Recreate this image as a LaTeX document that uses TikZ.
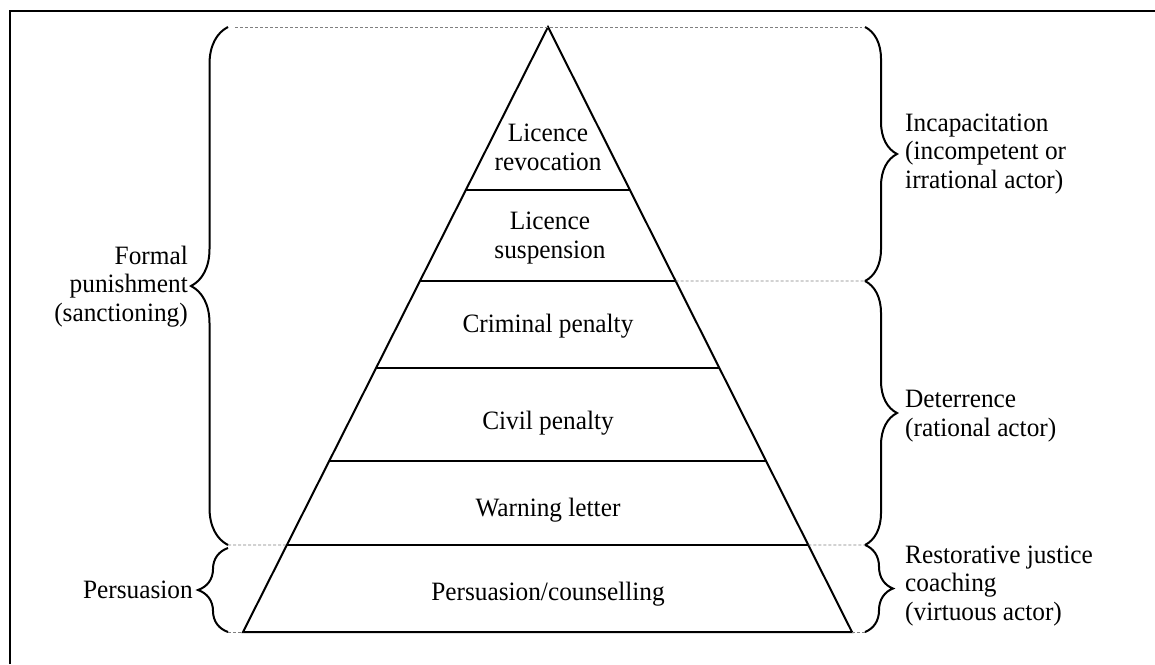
\documentclass[tikz,border=0pt]{standalone}
\usepackage{fontspec}
\setmainfont{Liberation Serif}[FakeStretch=0.955]
\usetikzlibrary{decorations.pathreplacing,calc}
\begin{document}
\begin{tikzpicture}[x=1pt,y=1pt,
  lbl/.style={font=\fontsize{26.5}{28.5}\selectfont, inner sep=0pt},
  pyr/.style={line width=2pt, line join=miter},
  guide/.style={gray, line width=0.8pt, dash pattern=on 3pt off 2pt},
  brc/.style={decorate, decoration={brace, amplitude=#1}, line width=2pt},
  frame/.style={line width=2.5pt}]
\useasboundingbox (0,0) rectangle (1155,-664);
% frame (top and left edges visible)
\coordinate (f1) at (10,-664);
\coordinate (f2) at (10,-11);
\coordinate (f3) at (1155,-11);
\draw[frame] (f1) -- (f2) -- (f3);
% pyramid
\coordinate (apex) at (548,-27);
\coordinate (bl) at (243,-632);
\coordinate (br) at (852,-632);
\draw[pyr] (bl) -- (apex) -- (br) -- cycle;
\foreach \t/\n in {0.2694/1,0.4198/2,0.5636/3,0.7174/4,0.8562/5}{
  \coordinate (l\n) at ($(apex)!\t!(bl)$);
  \coordinate (r\n) at ($(apex)!\t!(br)$);
  \draw[pyr] (l\n) -- (r\n);
}
% brace end points
\coordinate (Lt) at (228,-27);
\coordinate (Lm) at (228,-545);
\coordinate (Lm2) at (228,-548);
\coordinate (Lb) at (228,-632);
\coordinate (Rt) at (865,-27);
\coordinate (R1) at (865,-281);
\coordinate (Rm) at (865,-545);
\coordinate (Rb) at (865,-632);
% guide lines
\draw[guide, shorten <=7pt, shorten >=3pt] (Lt) -- (Rt);
\draw[guide] (r2) -- (R1);
\draw[guide] (Lm) -- (l5);
\draw[guide] (r5) -- (Rm);
\draw[guide] (Lb) -- (bl);
\draw[guide] (br) -- (Rb);
% braces
\draw[brc=37pt] (Lm) -- (Lt);
\draw[brc=30pt] (Lb) -- (Lm2);
\draw[brc=32pt] (Rt) -- (R1);
\draw[brc=32pt] (R1) -- (Rm);
\draw[brc=28pt] (Rm) -- (Rb);
% tier labels (base anchor = last line)
\node[lbl, anchor=base, align=center] (t1) at (548,-170) {Licence\\revocation};
\node[lbl, anchor=base, align=center] (t2) at (550,-258) {Licence\\suspension};
\node[lbl, anchor=base] (t3) at (548,-332) {Criminal penalty};
\node[lbl, anchor=base] (t4) at (548,-429) {Civil penalty};
\node[lbl, anchor=base] (t5) at (548,-516) {Warning letter};
\node[lbl, anchor=base] (t6) at (548,-600) {Persuasion/counselling};
% side labels
\node[lbl, anchor=base east, align=right] (formal) at (188,-321) {Formal\\punishment\\(sanctioning)};
\node[lbl, anchor=base east] (pers) at (193,-598) {Persuasion};
\node[lbl, anchor=base west, align=left] (incap) at (905,-188) {Incapacitation\\(incompetent or\\irrational actor)};
\node[lbl, anchor=base west, align=left] (deter) at (905,-436) {Deterrence\\(rational actor)};
\node[lbl, anchor=base west, align=left] (resto) at (905,-620) {Restorative justice\\coaching\\(virtuous actor)};
\end{tikzpicture}
\end{document}
